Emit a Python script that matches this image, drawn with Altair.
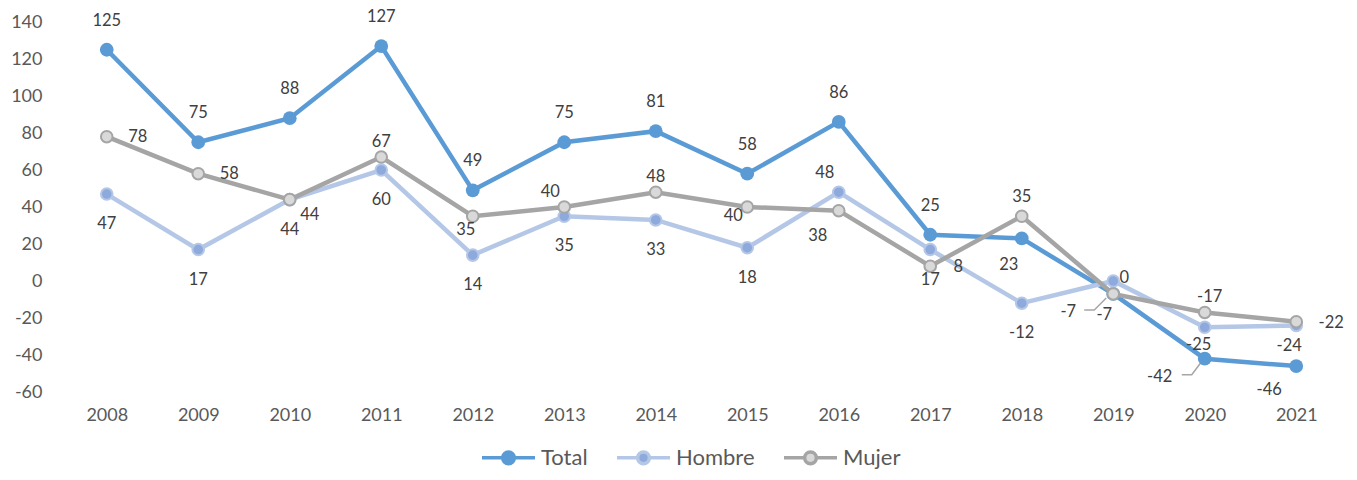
import altair as alt
import pandas as pd

years = ["2008", "2009", "2010", "2011", "2012", "2013", "2014",
         "2015", "2016", "2017", "2018", "2019", "2020", "2021"]
series_names = ["Total", "Hombre", "Mujer"]
total = [125, 75, 88, 127, 49, 75, 81, 58, 86, 25, 23, -7, -42, -46]
hombre = [47, 17, 44, 60, 14, 35, 33, 18, 48, 17, -12, 0, -25, -24]
mujer = [78, 58, 44, 67, 35, 40, 48, 40, 38, 8, 35, -7, -17, -22]
y_ticks = [-60, -40, -20, 0, 20, 40, 60, 80, 100, 120, 140]

# style: colours and label offsets (pixels) per series
line_colors = ["#5B9BD5", "#B4C7E7", "#A5A5A5"]
fill_colors = ["#5B9BD5", "#8EA9DB", "#D9D9D9"]
A, B = (0, -29), (0, 30)
label_offsets = {
    "Total": [A, A, A, A, A, A, A, A, A, A, (-13, 27), (-45, 18), (-45, 18), (-27, 24)],
    "Hombre": [B, B, B, B, B, B, B, B, (-14, -19), B, B, (11, -3), (-6, 18), (-7, 21)],
    "Mujer": [(31, 0), (31, 0), (20, 15), (0, -15), (-7, 14), (-14, -15), (0, -15),
              (-14, 9), (-21, 25), (28, 1), (0, -19), (-9, 21), (5, -15), (35, 1)],
}
# leader lines (series, year index, vertex offsets in pixels from the point)
leaders = [
    ("Total", 11, [(-29, 16), (-19, 16), (-7, 4)]),
    ("Total", 12, [(-23, 16), (-13, 16), (-4, 4)]),
]

PLOT_W, PLOT_H = 1281, 370
Y_MIN, Y_MAX = -60, 140

values = {"Total": total, "Hombre": hombre, "Mujer": mujer}
rows = []
for s in series_names:
    for i, y in enumerate(years):
        dx, dy = label_offsets[s][i]
        rows.append({"year": y, "value": values[s][i], "series": s,
                     "label": str(values[s][i]), "dx": dx, "dy": dy})
df = pd.DataFrame(rows)

lrows = []
for k, (s, i, verts) in enumerate(leaders):
    for j, (dx, dy) in enumerate(verts):
        lrows.append({"year": years[i], "value": values[s][i], "id": k,
                      "ord": j, "dx": dx, "dy": dy})
ldf = pd.DataFrame(lrows)

FONT = "Lato"
TXT = "#404040"

x_enc = alt.X("year:O", sort=years,
              scale=alt.Scale(type="point", padding=0.5),
              axis=alt.Axis(title=None, labelAngle=0, domain=False, ticks=False,
                            labelPadding=14, labelFontSize=18, labelColor="#595959",
                            labelFont=FONT))
y_axis = alt.Axis(title=None, values=y_ticks, domain=False, ticks=False,
                  grid=False, labelPadding=19, labelFontSize=18,
                  labelColor="#595959", labelFont=FONT,
                  labelExpr="toString(datum.value)")
y_scale = alt.Scale(domain=[Y_MIN, Y_MAX], nice=False, zero=False)
y_enc = alt.Y("value:Q", scale=y_scale, axis=y_axis, title=None)

legend_path = ("M-1,0L-0.22,0M0.22,0L1,0M0.22,0A0.22,0.22,0,1,1,-0.22,0"
               "A0.22,0.22,0,1,1,0.22,0Z")
legend = alt.Legend(title=None, orient="none", direction="horizontal",
                    legendX=419, legendY=407,
                    symbolType=legend_path, symbolSize=2809, symbolStrokeWidth=3.5,
                    labelFontSize=22, labelFont=FONT, labelColor="#595959",
                    labelOffset=4, columnPadding=22)

stroke_enc = alt.Stroke("series:N", sort=series_names,
                        scale=alt.Scale(domain=series_names, range=line_colors),
                        legend=legend)
fill_enc = alt.Fill("series:N", sort=series_names,
                    scale=alt.Scale(domain=series_names, range=fill_colors),
                    legend=legend)

ratio = (Y_MAX - Y_MIN) / PLOT_H
base = alt.Chart(df)
layers = []

leader_layer = alt.Chart(ldf).transform_calculate(
    ly=f"datum.value - datum.dy * {ratio}"
).mark_line(color="#A6A6A6", strokeWidth=1.5).encode(
    x=x_enc, y=alt.Y("ly:Q", scale=y_scale, axis=y_axis, title=None),
    xOffset=alt.XOffset("dx:Q", scale=None),
    detail="id:N", order="ord:Q",
)
layers.append(leader_layer)

for s in series_names:
    sub = base.transform_filter(alt.datum.series == s)
    layers.append(sub.mark_line(strokeWidth=4.5).encode(x=x_enc, y=y_enc, stroke=stroke_enc))
    size = 190 if s == "Total" else 135
    sw = 0 if s == "Total" else 2
    layers.append(sub.mark_point(filled=True, size=size, strokeWidth=sw, opacity=1)
                  .encode(x=x_enc, y=y_enc, stroke=stroke_enc, fill=fill_enc))

text = base.transform_calculate(
    ly=f"datum.value - datum.dy * {ratio}"
).mark_text(font=FONT, fontSize=16.5, color=TXT).encode(
    x=x_enc, y=alt.Y("ly:Q", scale=y_scale, axis=y_axis, title=None), text="label:N",
    xOffset=alt.XOffset("dx:Q", scale=None),
)
layers.append(text)

chart = alt.layer(*layers).properties(
    width=PLOT_W, height=PLOT_H,
    autosize=alt.AutoSizeParams(type="none"),
    padding={"left": 53, "top": 14, "right": 7, "bottom": 80},
    background="white",
).configure_view(stroke=None)

chart.save("out.html", embed_options={"renderer": "svg", "actions": False})
